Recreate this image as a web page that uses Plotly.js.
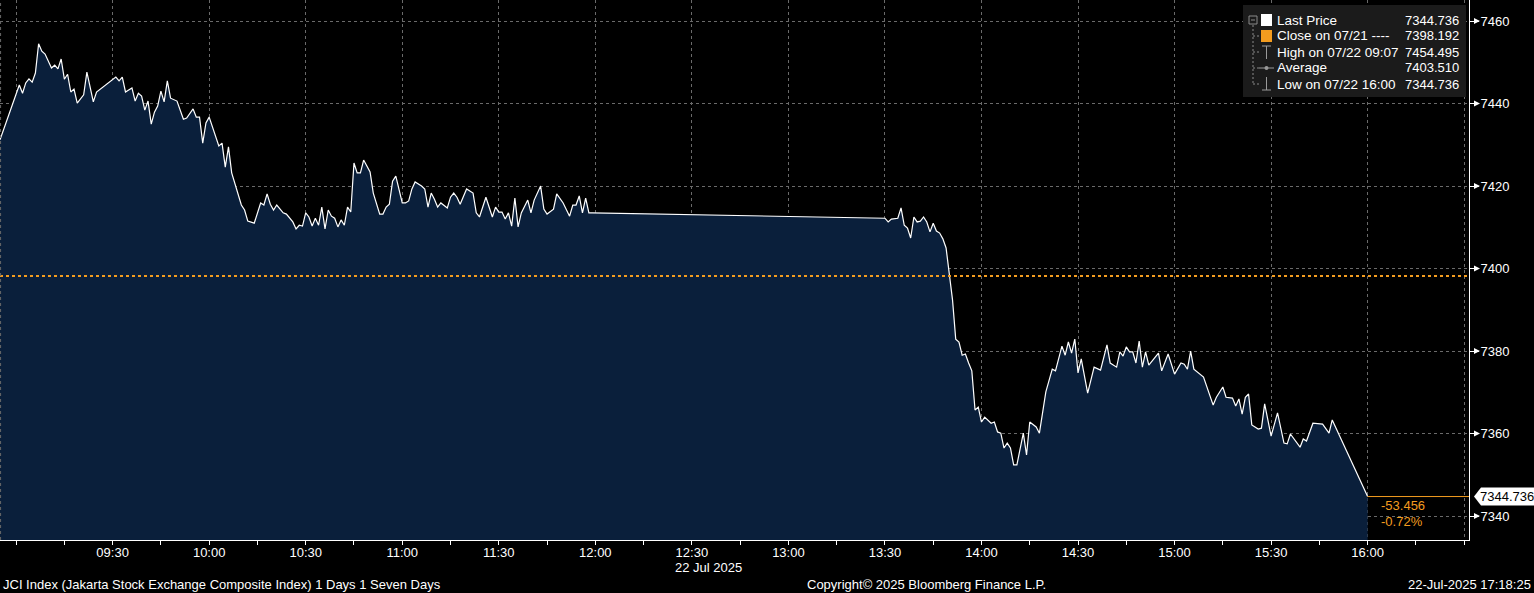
<!DOCTYPE html>
<html>
<head>
<meta charset="utf-8">
<script src="https://cdn.plot.ly/plotly-3.0.1.min.js"></script>
<style>html,body{margin:0;padding:0;background:#000;}#chart{width:1534px;height:593px;}</style>
</head>
<body>
<div id="chart"></div>
<script>
const DAY = '2025-07-22';
const times = [
'08:55','08:59','09:01','09:02','09:03','09:04','09:05','09:06','09:07','09:08','09:09','09:11','09:12','09:13','09:14','09:15','09:16','09:17','09:18','09:19','09:21','09:22','09:24','09:25','09:27','09:28','09:31','09:32','09:33','09:34','09:36','09:37','09:38','09:39','09:40','09:41','09:42','09:43','09:44','09:45','09:46','09:47','09:48','09:50','09:52','09:53','09:55','09:56','09:57','09:58','09:59',
'10:00','10:01','10:03','10:04','10:05','10:06','10:07','10:10','10:11','10:12','10:14','10:16','10:17','10:18','10:19','10:20','10:21','10:23','10:24','10:26','10:27','10:28','10:29','10:30','10:31','10:32','10:33','10:34','10:35','10:36','10:37','10:38','10:39','10:40','10:41','10:42','10:43','10:44','10:45','10:46','10:47','10:48','10:50','10:51','10:53','10:54','10:55','10:56','10:57','10:58',
'11:00','11:01','11:02','11:03','11:04','11:06','11:07','11:08','11:09','11:10','11:11','11:12','11:14','11:15','11:16','11:17','11:18','11:20','11:22','11:23','11:24','11:26','11:28','11:29','11:30','11:31','11:32','11:33','11:34','11:35','11:36','11:37','11:39','11:40','11:41','11:43','11:44','11:45','11:47','11:48','11:50','11:52','11:53','11:54','11:55','11:56','11:57','11:58','11:59',
'13:30','13:31','13:32','13:34','13:35','13:36','13:37','13:38','13:39','13:40','13:41','13:42','13:43','13:44','13:45','13:46','13:47','13:48','13:49','13:50','13:51','13:52','13:53','13:54','13:55','13:56','13:57','13:58','13:59',
'14:00','14:01','14:03','14:04','14:05','14:06','14:07','14:08','14:09','14:10','14:11','14:13','14:14','14:15','14:17','14:18','14:20','14:22','14:23','14:25','14:26','14:27','14:28','14:29','14:30','14:31','14:33','14:35','14:37','14:39','14:40','14:42','14:43','14:44','14:45','14:46','14:47','14:48','14:49','14:50','14:51','14:52','14:55','14:56','14:58',
'15:00','15:02','15:03','15:04','15:05','15:06','15:08','15:09','15:12','15:13','15:15','15:16','15:18','15:19','15:20','15:21','15:22','15:23','15:24','15:26','15:27','15:28','15:30','15:32','15:34','15:35','15:36','15:37','15:39','15:40','15:41','15:43','15:46','15:48','15:49','16:00'
];
const prices = [
7431.2,7440.1,7444.5,7442.5,7445.0,7446.0,7445.2,7447.4,7454.495,7452.7,7452.0,7448.6,7449.3,7448.4,7450.8,7445.9,7447.1,7442.8,7443.5,7440.1,7442.1,7447.6,7440.4,7442.8,7444.0,7444.7,7446.4,7445.5,7446.4,7442.8,7443.8,7440.6,7442.5,7441.8,7438.4,7440.6,7435.0,7437.9,7439.4,7443.0,7440.4,7445.5,7441.3,7440.6,7436.2,7436.5,7438.7,7436.7,7436.7,7430.4,7435.3,
7436.7,7434.3,7429.7,7430.4,7424.6,7429.5,7423.2,7415.4,7414.2,7411.5,7411.0,7415.9,7415.4,7418.1,7415.6,7414.2,7415.4,7413.5,7413.2,7411.3,7409.6,7410.5,7410.3,7413.5,7412.5,7410.3,7412.2,7410.5,7414.9,7409.6,7414.2,7412.7,7412.2,7410.1,7411.8,7410.5,7414.9,7413.7,7425.6,7423.2,7423.2,7426.3,7423.4,7418.3,7413.2,7413.2,7414.9,7415.6,7421.2,7422.4,
7415.9,7415.9,7416.4,7419.3,7421.0,7420.0,7419.3,7414.9,7418.3,7416.8,7414.9,7415.9,7414.7,7417.3,7418.3,7417.3,7415.6,7419.3,7418.3,7413.5,7412.5,7417.3,7412.5,7414.9,7413.7,7413.7,7412.0,7413.5,7410.3,7417.1,7410.1,7413.5,7416.6,7413.5,7416.6,7420.0,7414.4,7413.2,7414.4,7418.1,7415.9,7412.7,7415.4,7415.4,7417.6,7413.5,7417.1,7413.5,7413.5,
7412.2,7411.3,7412.0,7412.2,7414.7,7410.5,7409.8,7407.4,7412.5,7411.3,7411.5,7412.5,7411.3,7408.9,7411.0,7409.1,7408.6,7407.2,7405.0,7398.4,7392.4,7382.9,7382.2,7379.0,7379.3,7377.1,7375.2,7365.7,7366.4,
7362.8,7364.0,7362.5,7362.8,7360.4,7360.1,7356.5,7357.7,7356.5,7352.4,7352.4,7360.1,7354.8,7362.8,7361.6,7360.1,7370.1,7375.6,7375.2,7381.2,7379.0,7382.2,7379.5,7382.9,7374.7,7378.1,7369.8,7376.1,7375.4,7381.5,7377.1,7376.1,7379.8,7378.8,7381.0,7379.8,7379.8,7377.1,7382.4,7376.1,7379.8,7376.6,7379.5,7375.2,7379.3,
7374.4,7377.1,7376.8,7375.6,7380.0,7375.6,7374.4,7373.7,7366.9,7368.8,7371.3,7368.8,7368.6,7366.7,7368.4,7364.7,7368.8,7369.6,7362.1,7361.1,7361.3,7367.2,7359.4,7365.0,7357.7,7357.5,7359.9,7358.9,7356.7,7358.7,7358.2,7362.5,7362.3,7360.1,7363.3,7344.736
];
const prevClose = 7398.192;
const yTicks = [7340, 7360, 7380, 7400, 7420, 7440, 7460];
const xTickTimes = ['09:00','09:30','10:00','10:30','11:00','11:30','12:00','12:30','13:00','13:30','14:00','14:30','15:00','15:30','16:00','16:30'];
const xTickLabels = ['','09:30','10:00','10:30','11:00','11:30','12:00','12:30','13:00','13:30','14:00','14:30','15:00','15:30','16:00',''];
const xMinorTimes = ['09:15','09:45','10:15','10:45','11:15','11:45','12:15','12:45','13:15','13:45','14:15','14:45','15:15','15:45','16:15'];
const legendLabels = ['Last Price','Close on 07/21 ----','High on 07/22 09:07','Average','Low on 07/22 16:00'];
const legendValues = ['7344.736','7398.192','7454.495','7403.510','7344.736'];
const footerLeft = 'JCI Index (Jakarta Stock Exchange Composite Index) 1 Days 1 Seven Days';
const footerMid = 'Copyright\u00a9 2025 Bloomberg Finance L.P.';
const footerRight = '22-Jul-2025 17:18:25';
const dateLabel = '22 Jul 2025';

const W = 1534, H = 593, ML = 0, MR = 65, MT = 0, MB = 53;
const PW = W - ML - MR, PH = H - MT - MB;
const px = x => (x - ML) / PW;
const py = y => (PH + MT - y) / PH;
const FONT = 'Liberation Sans, Arial, sans-serif';
const ORANGE = '#f39c1f';
const dt = t => DAY + ' ' + t;

const last = prices[prices.length - 1];
const lastTime = times[times.length - 1];
const chg = last - prevClose;
const pct = chg / prevClose * 100;

const trace = {
  type: 'scatter', mode: 'lines',
  x: times.map(dt), y: prices,
  line: {color: '#ffffff', width: 1.2},
  fill: 'tozeroy', fillcolor: '#0a1f3b',
  hoverinfo: 'skip'
};

const shapes = [];
const annotations = [];
const UNIT = 4.125; // px per index point (for small marker sizes)
// previous close line
shapes.push({type:'line', xref:'paper', yref:'y', x0:0, x1:1, y0:prevClose, y1:prevClose,
  line:{color:ORANGE, width:2, dash:'dot'}});
// left edge dashed
shapes.push({type:'line', xref:'paper', yref:'paper', x0:0.0004, x1:0.0004, y0:0, y1:1,
  line:{color:'#6a6a6a', width:1, dash:'3px,3px'}});
// y tick arrow heads
yTicks.forEach(v => {
  const d = 3 / UNIT;
  shapes.push({type:'path', xref:'paper', yref:'y',
    path:`M ${px(1480)} ${v} L ${px(1474)} ${v + d} L ${px(1474)} ${v - d} Z`,
    fillcolor:'#ffffff', line:{color:'#ffffff', width:0}});
});
// last price line
shapes.push({type:'line', xref:'x', yref:'y', x0:dt(lastTime), x1:dt('16:31:30'), y0:last, y1:last,
  line:{color:ORANGE, width:1}});
// last price bubble
const bx0 = px(1474), bx1 = px(1481), bx2 = px(1534);
const hh = 9 / UNIT;
shapes.push({type:'path', xref:'paper', yref:'y',
  path:`M ${bx0} ${last} L ${bx1} ${last + hh} L ${bx2} ${last + hh} L ${bx2} ${last - hh} L ${bx1} ${last - hh} Z`,
  fillcolor:'#ffffff', line:{color:'#ffffff', width:0}});
annotations.push({xref:'paper', yref:'y', x:px(1507), y:last, text:last.toFixed(3), showarrow:false,
  xanchor:'center', yanchor:'middle', font:{family:FONT, size:13, color:'#000'}});
annotations.push({xref:'paper', yref:'paper', x:px(1379), y:py(505), text:chg.toFixed(3), showarrow:false,
  xanchor:'left', yanchor:'middle', font:{family:FONT, size:13, color:ORANGE}});
annotations.push({xref:'paper', yref:'paper', x:px(1379), y:py(521), text:pct.toFixed(2) + '%', showarrow:false,
  xanchor:'left', yanchor:'middle', font:{family:FONT, size:13, color:ORANGE}});

// legend box
shapes.push({type:'rect', xref:'paper', yref:'paper', x0:px(1243), x1:px(1466), y0:py(97), y1:py(5),
  fillcolor:'#1b1b1b', line:{width:0}});
const rowY = [20, 36, 52, 68, 84];
// tree
shapes.push({type:'rect', xref:'paper', yref:'paper', x0:px(1249), x1:px(1257), y0:py(24), y1:py(16),
  line:{color:'#8a8a8a', width:1}});
shapes.push({type:'line', xref:'paper', yref:'paper', x0:px(1251), x1:px(1255), y0:py(20), y1:py(20),
  line:{color:'#8a8a8a', width:1}});
shapes.push({type:'line', xref:'paper', yref:'paper', x0:px(1253), x1:px(1253), y0:py(25), y1:py(rowY[4]),
  line:{color:'#8a8a8a', width:1, dash:'2px,2px'}});
for (let i = 1; i < rowY.length; i++) {
  shapes.push({type:'line', xref:'paper', yref:'paper', x0:px(1253), x1:px(1259), y0:py(rowY[i]), y1:py(rowY[i]),
    line:{color:'#8a8a8a', width:1, dash:'2px,2px'}});
}
// icons
shapes.push({type:'rect', xref:'paper', yref:'paper', x0:px(1261), x1:px(1272), y0:py(rowY[0]+6), y1:py(rowY[0]-6),
  fillcolor:'#ffffff', line:{width:0}});
shapes.push({type:'rect', xref:'paper', yref:'paper', x0:px(1261), x1:px(1272), y0:py(rowY[1]+6), y1:py(rowY[1]-6),
  fillcolor:ORANGE, line:{width:0}});
const g = '#9a9a9a';
shapes.push({type:'line', xref:'paper', yref:'paper', x0:px(1262), x1:px(1271), y0:py(rowY[2]-6), y1:py(rowY[2]-6), line:{color:g, width:1}});
shapes.push({type:'line', xref:'paper', yref:'paper', x0:px(1266.5), x1:px(1266.5), y0:py(rowY[2]-6), y1:py(rowY[2]+7), line:{color:g, width:1}});
shapes.push({type:'line', xref:'paper', yref:'paper', x0:px(1259), x1:px(1274), y0:py(rowY[3]), y1:py(rowY[3]), line:{color:g, width:1}});
shapes.push({type:'circle', xref:'paper', yref:'paper', x0:px(1264.5), x1:px(1268.5), y0:py(rowY[3]+2), y1:py(rowY[3]-2), fillcolor:g, line:{width:0}});
shapes.push({type:'line', xref:'paper', yref:'paper', x0:px(1266.5), x1:px(1266.5), y0:py(rowY[4]-7), y1:py(rowY[4]+6), line:{color:g, width:1}});
shapes.push({type:'line', xref:'paper', yref:'paper', x0:px(1262), x1:px(1271), y0:py(rowY[4]+6), y1:py(rowY[4]+6), line:{color:g, width:1}});
legendLabels.forEach((lab, i) => {
  annotations.push({xref:'paper', yref:'paper', x:px(1275), y:py(rowY[i]), text:lab, showarrow:false,
    xanchor:'left', yanchor:'middle', font:{family:FONT, size:13.5, color:'#ffffff'}});
  annotations.push({xref:'paper', yref:'paper', x:px(1461), y:py(rowY[i]), text:legendValues[i], showarrow:false,
    xanchor:'right', yanchor:'middle', font:{family:FONT, size:13, color:'#ffffff'}});
});

// bottom texts
annotations.push({xref:'paper', yref:'paper', x:px(708), y:py(567), text:dateLabel, showarrow:false,
  xanchor:'center', yanchor:'middle', font:{family:FONT, size:13, color:'#ffffff'}});
annotations.push({xref:'paper', yref:'paper', x:px(1), y:py(584), text:footerLeft, showarrow:false,
  xanchor:'left', yanchor:'middle', font:{family:FONT, size:13, color:'#ffffff'}});
annotations.push({xref:'paper', yref:'paper', x:px(926), y:py(584), text:footerMid, showarrow:false,
  xanchor:'center', yanchor:'middle', font:{family:FONT, size:13, color:'#ffffff'}});
annotations.push({xref:'paper', yref:'paper', x:px(1533), y:py(584), text:footerRight, showarrow:false,
  xanchor:'right', yanchor:'middle', font:{family:FONT, size:13, color:'#ffffff'}});

const layout = {
  width: W, height: H,
  paper_bgcolor: '#000000', plot_bgcolor: '#000000',
  margin: {l: ML, r: MR, t: MT, b: MB, pad: 0},
  showlegend: false,
  xaxis: {
    type: 'date',
    range: [dt('08:55:00'), dt('16:31:30')],
    tickmode: 'array', tickvals: xTickTimes.map(dt), ticktext: xTickLabels,
    ticks: 'outside', ticklen: 4, tickwidth: 1, tickcolor: '#ffffff',
    ticklabelstandoff: -4,
    showline: true, linecolor: '#ffffff', linewidth: 1,
    showgrid: true, gridcolor: '#6a6a6a', griddash: '3px,3px', gridwidth: 1,
    zeroline: false, fixedrange: true,
    tickfont: {family: FONT, size: 13, color: '#ffffff'},
    minor: {tickmode: 'array', tickvals: xMinorTimes.map(dt), ticks: 'outside', ticklen: 4, tickwidth: 1, tickcolor: '#ffffff', showgrid: false}
  },
  yaxis: {
    side: 'right',
    range: [7334.2, 7465.1],
    tickmode: 'array', tickvals: yTicks, ticktext: yTicks.map(String),
    ticks: 'outside', ticklen: 9, tickwidth: 1, tickcolor: '#ffffff',
    ticklabelstandoff: -1,
    showline: true, linecolor: '#ffffff', linewidth: 1,
    showgrid: true, gridcolor: '#6a6a6a', griddash: '3px,3px', gridwidth: 1,
    zeroline: false, fixedrange: true,
    tickfont: {family: FONT, size: 13, color: '#ffffff'}
  },
  shapes: shapes,
  annotations: annotations
};
Plotly.newPlot('chart', [trace], layout, {staticPlot: true, displayModeBar: false});
</script>
</body>
</html>
